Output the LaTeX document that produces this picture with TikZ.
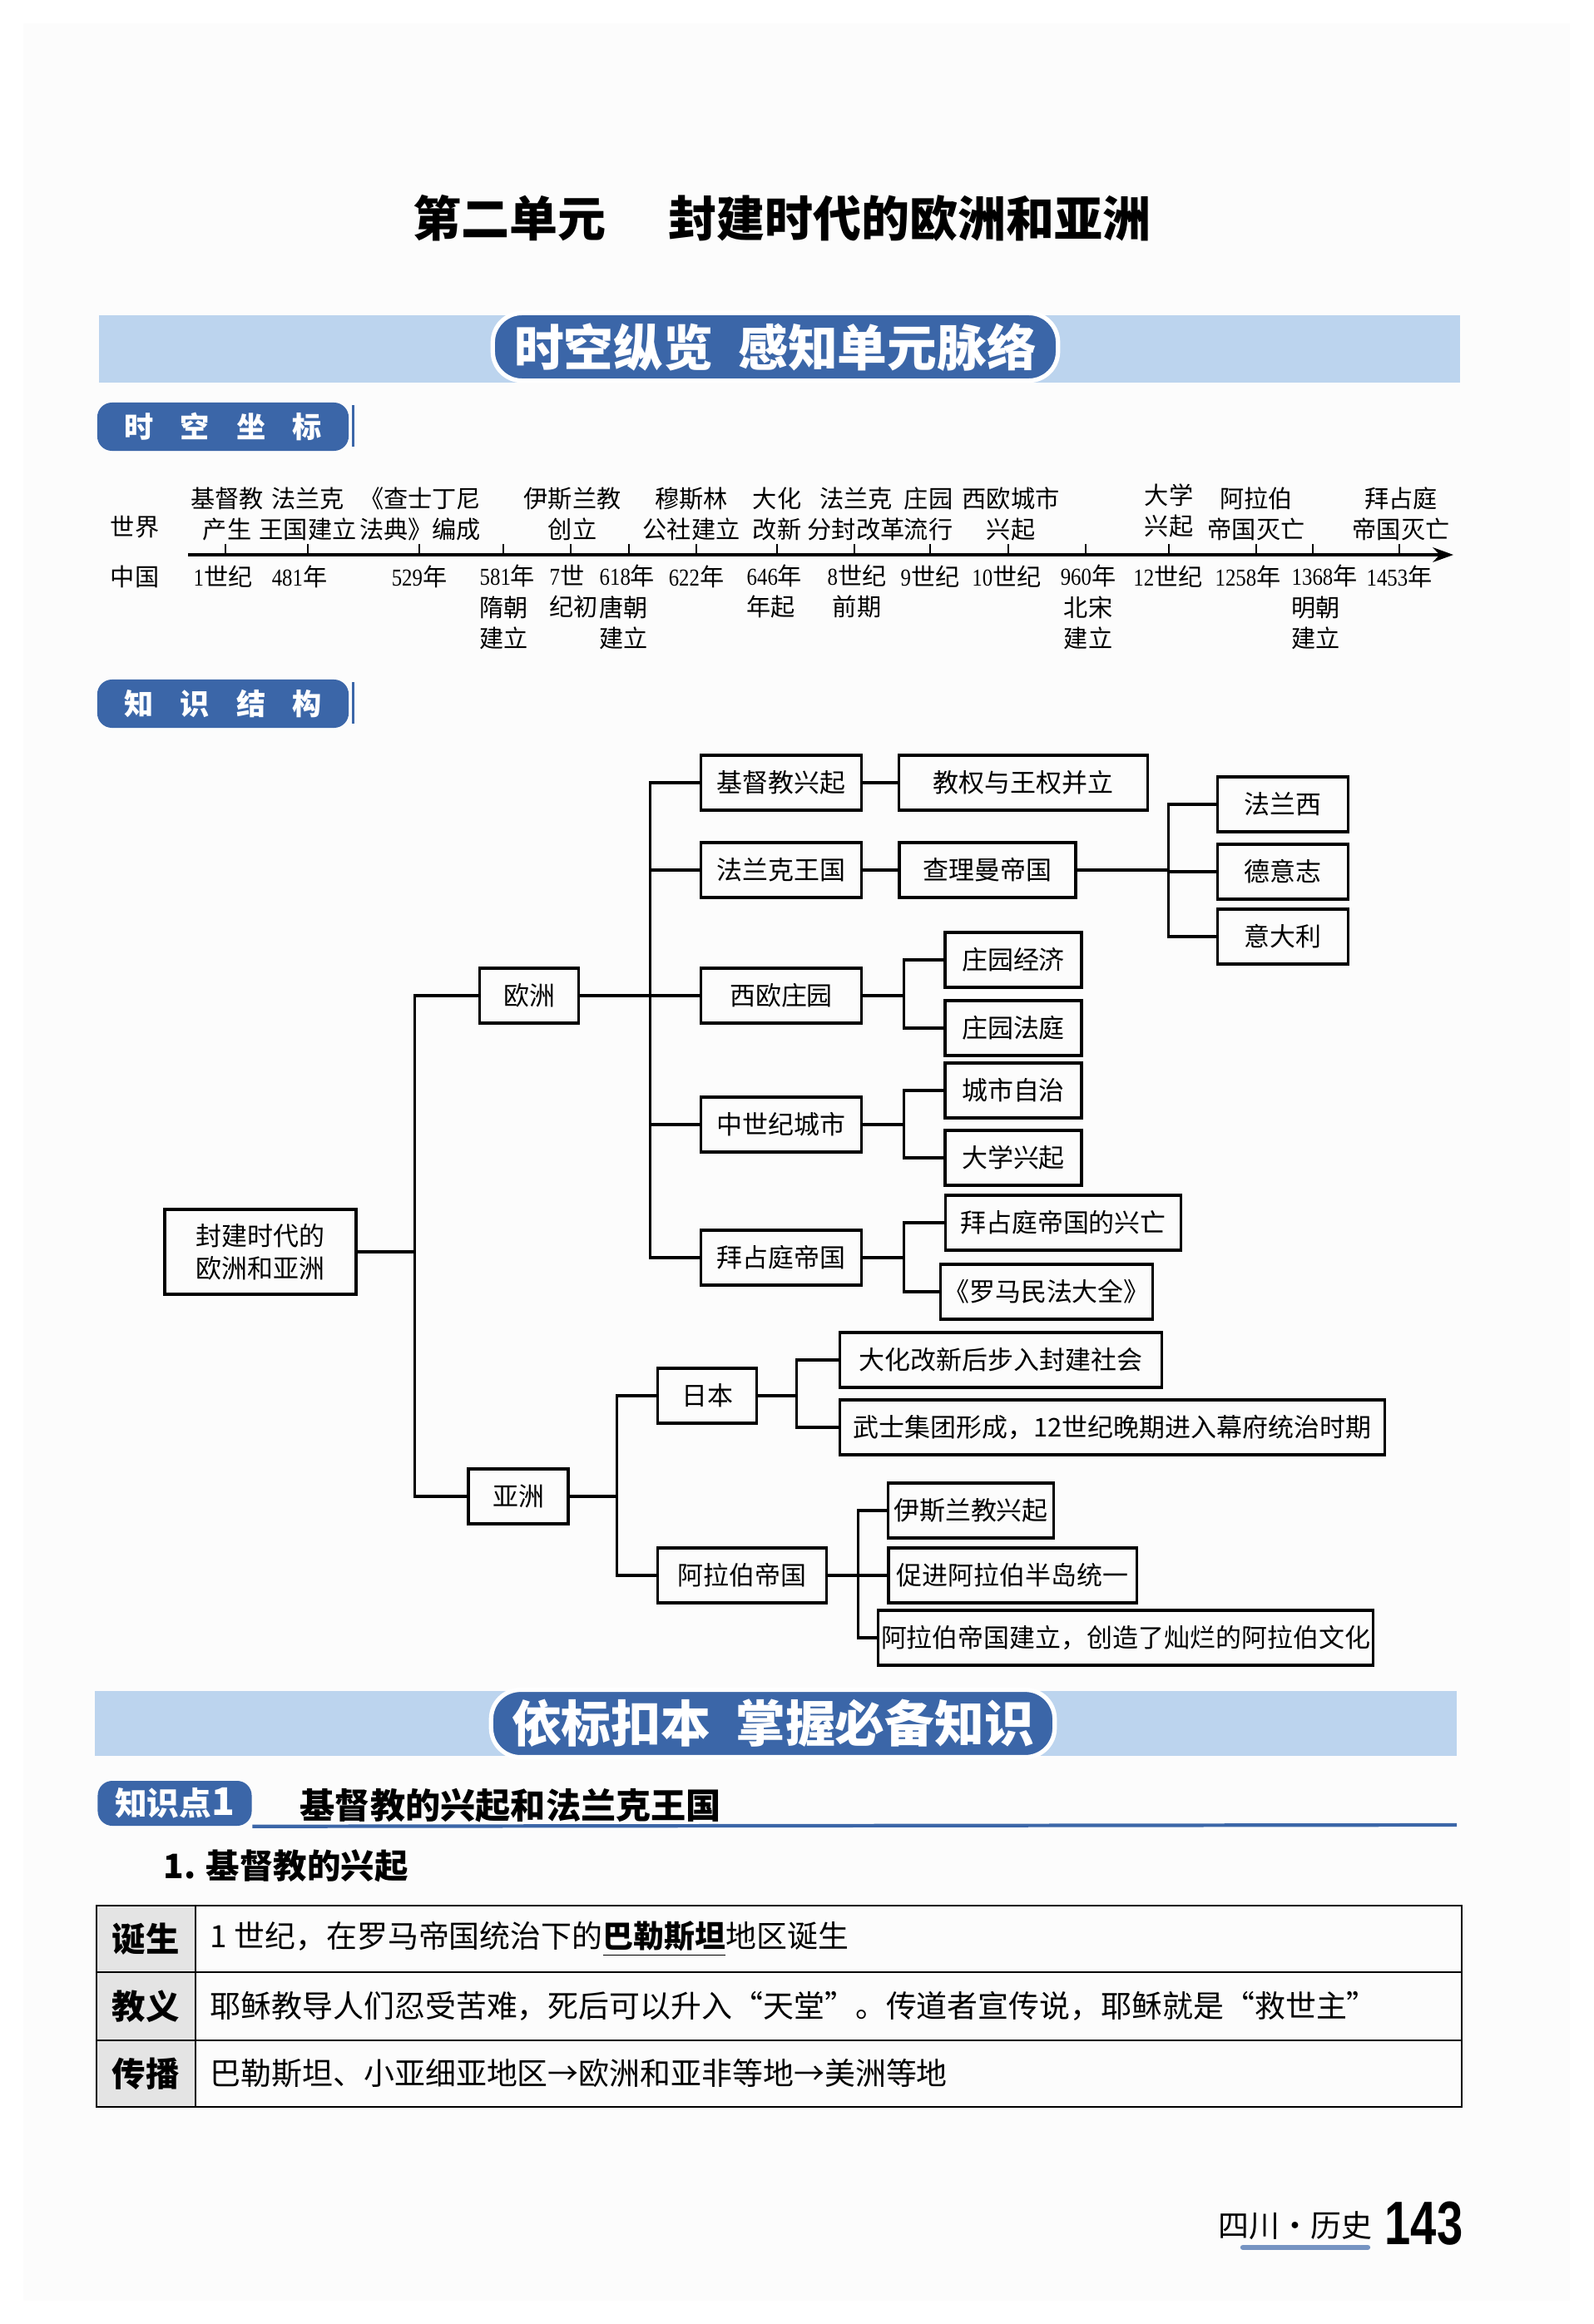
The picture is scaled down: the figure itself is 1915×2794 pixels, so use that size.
\documentclass[tikz,border=0pt]{standalone}
\usepackage{fontspec}
\setmainfont{Noto Sans CJK SC}
\newfontfamily\numfont[FakeStretch=0.85]{Liberation Serif}
\newfontfamily\pagefont[FakeStretch=0.76]{Liberation Sans}
\usepackage{xcolor}
\usetikzlibrary{arrows.meta}
\definecolor{bandblue}{HTML}{BCD4EE}
\definecolor{tagblue}{HTML}{3B66A8}
\definecolor{headgray}{HTML}{E4E4E4}
\newcommand\nm[1]{{\numfont #1}}

\begin{document}
\begin{tikzpicture}[x=0.01cm, y=-0.01cm,
  box/.style={rectangle, draw, line width=0.9pt, minimum height=0.66cm, inner xsep=1pt, inner ysep=2pt, align=center, font=\fontsize{8.8}{11}\selectfont},
  tag/.style={rectangle, rounded corners=5pt, fill=tagblue, text=white, inner sep=0pt, font=\fontsize{10}{12}\selectfont\bfseries},
  banner/.style={rectangle, rounded corners=10pt, fill=tagblue, draw=white, line width=1.5pt, text=white, font=\fontsize{17}{20}\selectfont\bfseries},
  tl/.style={inner sep=0pt, align=center, font=\fontsize{8.3}{10.6}\selectfont},
  link/.style={line width=0.9pt},
  cell/.style={inner sep=0pt, font=\fontsize{10.5}{12}\selectfont}
]
  \useasboundingbox (0,0) rectangle (1915,2794);
  \fill[white] (0,0) rectangle (1915,2794);
  \fill[black!1] (28,28) rectangle (1887,2766);

  % title
  \node[font=\fontsize{16.5}{20}\selectfont\bfseries] (title) at (940,262) {第二单元\hspace{0.75cm}封建时代的欧洲和亚洲};

  % banner 1
  \fill[bandblue] (119,379) rectangle (1755,460);
  \node[banner, minimum width=6.79cm, minimum height=0.78cm] (ban1) at (932,417) {时空纵览\hspace{0.3cm}感知单元脉络};

  % time line
  \node[tag, minimum width=3.02cm, minimum height=0.58cm] (tag1) at (268,513) {时\hspace{0.32cm}空\hspace{0.32cm}坐\hspace{0.32cm}标};
  \draw[tagblue, line width=0.8pt] (tag1.north east) ++(5,4) -- ++(0,50);

  \coordinate (axisL) at (226,667);
  \coordinate (axisR) at (1747,667);
  \draw[line width=1.1pt, -{Stealth[length=7pt, width=5pt]}] (axisL) -- (axisR);
  \foreach \x in {271,370,504,605,686,756,837,934,1027,1118,1212,1305,1405,1510,1578,1682}
    \draw[line width=0.6pt] (\x,667) -- (\x,654);

  \node[tl] (world) at (162,634) {世界};
  \node[tl] (china) at (162,693) {中国};

  \node[tl] (w1) at (273,618) {基督教\\产生};
  \node[tl] (w2) at (370,618) {法兰克\\王国建立};
  \node[tl] (w3) at (505,618) {《查士丁尼\\法典》编成};
  \node[tl] (w4) at (688,618) {伊斯兰教\\创立};
  \node[tl] (w5) at (831,618) {穆斯林\\公社建立};
  \node[tl] (w6) at (934,618) {大化\\改新};
  \node[tl] (w7) at (1029,618) {法兰克\\分封改革};
  \node[tl] (w8) at (1116,618) {庄园\\流行};
  \node[tl] (w9) at (1215,618) {西欧城市\\兴起};
  \node[tl] (w10) at (1405,614) {大学\\兴起};
  \node[tl] (w11) at (1510,618) {阿拉伯\\帝国灭亡};
  \node[tl] (w12) at (1684,618) {拜占庭\\帝国灭亡};

  \node[tl] (c1) at (268,693) {\nm{1}世纪};
  \node[tl] (c2) at (360,693) {\nm{481}年};
  \node[tl] (c3) at (504,693) {\nm{529}年};
  \node[tl, align=left, anchor=west] (c4) at (576,730) {\nm{581}年\\隋朝\\建立};
  \node[tl, align=left, anchor=west] (c5) at (660,711) {\nm{7}世\\纪初};
  \node[tl, align=left, anchor=west] (c6) at (720,730) {\nm{618}年\\唐朝\\建立};
  \node[tl] (c7) at (837,693) {\nm{622}年};
  \node[tl, align=left, anchor=west] (c8) at (897,711) {\nm{646}年\\年起};
  \node[tl] (c9) at (1030,711) {\nm{8}世纪\\前期};
  \node[tl] (c10) at (1118,693) {\nm{9}世纪};
  \node[tl] (c11) at (1210,693) {\nm{10}世纪};
  \node[tl] (c12) at (1308,730) {\nm{960}年\\北宋\\建立};
  \node[tl] (c13) at (1404,693) {\nm{12}世纪};
  \node[tl] (c14) at (1500,693) {\nm{1258}年};
  \node[tl, align=left, anchor=west] (c15) at (1552,730) {\nm{1368}年\\明朝\\建立};
  \node[tl] (c16) at (1682,693) {\nm{1453}年};

  % knowledge structure
  \node[tag, minimum width=3.02cm, minimum height=0.58cm] (tag2) at (268,846) {知\hspace{0.32cm}识\hspace{0.32cm}结\hspace{0.32cm}构};
  \draw[tagblue, line width=0.8pt] (tag2.north east) ++(5,4) -- ++(0,50);

  \node[box, minimum width=2.30cm, minimum height=1.02cm] (root) at (313,1505) {封建时代的\\欧洲和亚洲};
  \node[box, minimum width=1.19cm] (eu) at (636,1197) {欧洲};
  \node[box, minimum width=1.20cm] (asia) at (623,1799) {亚洲};

  \node[box, minimum width=1.93cm] (church) at (939,941) {基督教兴起};
  \node[box, minimum width=2.99cm] (power) at (1230,941) {教权与王权并立};
  \node[box, minimum width=1.93cm] (frank) at (939,1046) {法兰克王国};
  \node[box, minimum width=2.12cm] (charles) at (1187,1046) {查理曼帝国};
  \node[box, minimum width=1.57cm] (france) at (1542,967) {法兰西};
  \node[box, minimum width=1.57cm] (germany) at (1542,1048) {德意志};
  \node[box, minimum width=1.57cm] (italy) at (1542,1126) {意大利};
  \node[box, minimum width=1.93cm] (manor) at (939,1197) {西欧庄园};
  \node[box, minimum width=1.64cm] (economy) at (1218,1154) {庄园经济};
  \node[box, minimum width=1.64cm] (court) at (1218,1236) {庄园法庭};
  \node[box, minimum width=1.93cm] (city) at (939,1352) {中世纪城市};
  \node[box, minimum width=1.64cm] (selfrule) at (1218,1311) {城市自治};
  \node[box, minimum width=1.64cm] (univ) at (1218,1392) {大学兴起};
  \node[box, minimum width=1.93cm] (byz) at (939,1512) {拜占庭帝国};
  \node[box, minimum width=2.83cm] (byzfate) at (1278,1470) {拜占庭帝国的兴亡};
  \node[box, minimum width=2.44cm] (code) at (1258,1553) {《罗马民法大全》};

  \node[box, minimum width=1.19cm] (japan) at (850,1678) {日本};
  \node[box, minimum width=2.03cm] (arab) at (892,1894) {阿拉伯帝国};
  \node[box, minimum width=3.87cm] (taika) at (1203,1635) {大化改新后步入封建社会};
  \node[box, minimum width=6.55cm] (samurai) at (1337,1716) {武士集团形成，12世纪晚期进入幕府统治时期};
  \node[box, minimum width=1.99cm] (islam) at (1167,1816) {伊斯兰教兴起};
  \node[box, minimum width=2.98cm] (unify) at (1217,1894) {促进阿拉伯半岛统一};
  \node[box, minimum width=5.70cm] (culture) at (1353,1969) {阿拉伯帝国建立，创造了灿烂的阿拉伯文化};

  \path (root.east) ++(69,0) coordinate (rbus);
  \draw[link] (root.east) -- (rbus);
  \foreach \n in {eu,asia} \draw[link] (rbus) |- (\n.west);

  \path (eu.east) ++(84,0) coordinate (ebus);
  \draw[link] (eu.east) -- (manor.west);
  \foreach \n in {church,frank,city,byz} \draw[link] (ebus) |- (\n.west);
  \draw[link] (church) -- (power);
  \draw[link] (frank) -- (charles);
  \path (charles.east) ++(110,0) coordinate (cbus);
  \draw[link] (charles.east) -- (cbus);
  \foreach \n in {france,germany,italy} \draw[link] (cbus) |- (\n.west);

  \path (manor.east) ++(49,0) coordinate (mbus);
  \draw[link] (manor.east) -- (mbus);
  \foreach \n in {economy,court} \draw[link] (mbus) |- (\n.west);
  \path (city.east) ++(49,0) coordinate (tbus);
  \draw[link] (city.east) -- (tbus);
  \foreach \n in {selfrule,univ} \draw[link] (tbus) |- (\n.west);
  \path (byz.east) ++(49,0) coordinate (bbus);
  \draw[link] (byz.east) -- (bbus);
  \foreach \n in {byzfate,code} \draw[link] (bbus) |- (\n.west);

  \path (asia.east) ++(57,0) coordinate (abus);
  \draw[link] (asia.east) -- (abus);
  \foreach \n in {japan,arab} \draw[link] (abus) |- (\n.west);
  \path (japan.east) ++(46,0) coordinate (jbus);
  \draw[link] (japan.east) -- (jbus);
  \foreach \n in {taika,samurai} \draw[link] (jbus) |- (\n.west);
  \path (arab.east) ++(36,0) coordinate (arbus);
  \draw[link] (arab.east) -- (arbus);
  \foreach \n in {islam,unify,culture} \draw[link] (arbus) |- (\n.west);

  % banner 2
  \fill[bandblue] (114,2033) rectangle (1751,2111);
  \node[banner, minimum width=6.77cm, minimum height=0.80cm] (ban2) at (929,2072) {依标扣本\hspace{0.3cm}掌握必备知识};

  % knowledge point 1
  \node[tag, minimum width=1.85cm, minimum height=0.54cm, font=\fontsize{11}{13}\selectfont\bfseries] (kp) at (210,2168) {知识点{\fontsize{13}{13}\selectfont 1}};
  \coordinate (kpend) at (1751,2194);
  \draw[tagblue, line width=1.2pt] (kp.south east) -- (kpend);
  \node[anchor=west, inner sep=0pt, font=\fontsize{12}{14}\selectfont\bfseries] (kphead) at (360,2171) {基督教的兴起和法兰克王国};
  \node[anchor=west, inner sep=0pt, font=\fontsize{11.5}{14}\selectfont\bfseries] (sub1) at (196,2243) {1. 基督教的兴起};

  % table
  \fill[headgray] (116,2291) rectangle (235,2533);
  \draw[line width=0.7pt] (116,2291) rectangle (1757,2533);
  \draw[line width=0.6pt] (235,2291) -- (235,2533);
  \draw[line width=0.6pt] (116,2371) -- (1757,2371);
  \draw[line width=0.6pt] (116,2453) -- (1757,2453);
  \node[cell, font=\fontsize{11.5}{13}\selectfont\bfseries] (h1) at (175,2331) {诞生};
  \node[cell, font=\fontsize{11.5}{13}\selectfont\bfseries] (h2) at (175,2412) {教义};
  \node[cell, font=\fontsize{11.5}{13}\selectfont\bfseries] (h3) at (175,2493) {传播};
  \node[cell, anchor=west] (r1) at (252,2331) {1 世纪，在罗马帝国统治下的\underline{\textbf{巴勒斯坦}}地区诞生};
  \node[cell, anchor=west] (r2) at (252,2412) {耶稣教导人们忍受苦难，死后可以升入“天堂”。传道者宣传说，耶稣就是“救世主”};
  \node[cell, anchor=west] (r3) at (252,2493) {巴勒斯坦、小亚细亚地区→欧洲和亚非等地→美洲等地};

  % footer
  \node[anchor=east, inner sep=0pt, font=\fontsize{10.5}{13}\selectfont] (subject) at (1650,2676) {四川·历史};
  \draw[tagblue!70, line width=1.8pt, line cap=round] (subject.south west) ++(30,8) -- ++(150,0);
  \node[anchor=west, inner sep=0pt, font=\pagefont\fontsize{21}{24}\selectfont\bfseries] (page) at (1664,2673) {143};
\end{tikzpicture}
\end{document}
